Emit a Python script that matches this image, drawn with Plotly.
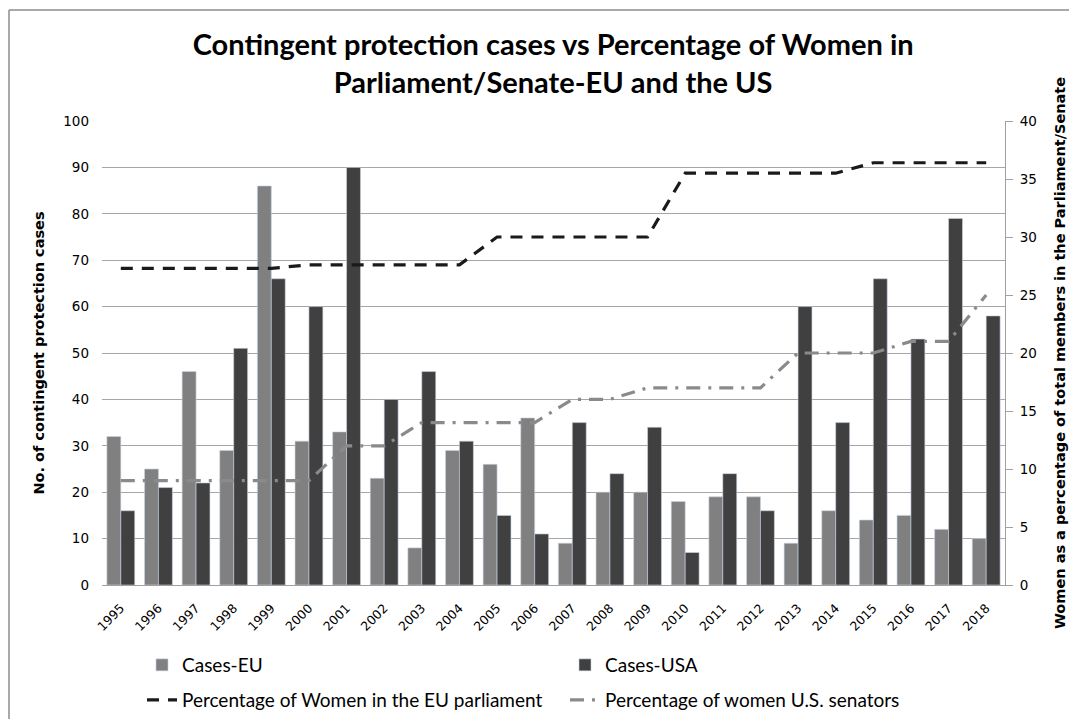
import plotly.graph_objects as go

years = [str(y) for y in range(1995, 2019)]
cases_eu = [32, 25, 46, 29, 86, 31, 33, 23, 8, 29, 26, 36, 9, 20, 20, 18, 19, 19, 9, 16, 14, 15, 12, 10]
cases_usa = [16, 21, 22, 51, 66, 60, 90, 40, 46, 31, 15, 11, 35, 24, 34, 7, 24, 16, 60, 35, 66, 53, 79, 58]
pct_eu_parl = [27.3, 27.3, 27.3, 27.3, 27.3, 27.6, 27.6, 27.6, 27.6, 27.6, 30, 30, 30, 30, 30,
               35.5, 35.5, 35.5, 35.5, 35.5, 36.4, 36.4, 36.4, 36.4]
pct_us_sen = [9, 9, 9, 9, 9, 9, 12, 12, 14, 14, 14, 14, 16, 16, 17, 17, 17, 17, 20, 20, 20, 21, 21, 25]

# the page body has an 8px margin, so the figure is drawn 8px smaller/shifted
OFF = 8
W, H = 1077 - OFF, 719 - OFF
L, R, T, B = 102 - OFF, 72, 121 - OFF, 134
pw, ph = W - L - R, H - T - B
LEG_FONT = dict(family="Lato", size=19, color="black")

fig = go.Figure()
fig.add_trace(go.Bar(x=years, y=cases_eu, name="Cases-EU", marker_color="#808080",
                     marker_line=dict(color="#c8d4e4", width=0.6), legend="legend"))
fig.add_trace(go.Bar(x=years, y=cases_usa, name="Cases-USA", marker_color="#404040",
                     marker_line=dict(color="#c8d4e4", width=0.6), legend="legend"))
fig.add_trace(go.Scatter(x=years, y=pct_eu_parl, name="Percentage of Women in the EU parliament",
                         mode="lines", yaxis="y2", legend="legend2",
                         line=dict(color="#1a1a1a", width=3.2, dash="12px,9px")))
fig.add_trace(go.Scatter(x=years, y=pct_us_sen, name="Percentage of women U.S. senators",
                         mode="lines", yaxis="y2", legend="legend2",
                         line=dict(color="#8a8a8a", width=3.2, dash="14px,8px,3px,8px")))

# outer chart border (left and top edges)
bx, by = (1 - L) / pw, (H - B - 2) / ph
fig.add_shape(type="line", xref="paper", yref="paper",
              x0=bx, x1=(W + 5 - L) / pw, y0=by, y1=by,
              line=dict(color="#8c8c8c", width=1.5))
fig.add_shape(type="line", xref="paper", yref="paper",
              x0=bx, x1=bx, y0=by, y1=-(B + 5) / ph,
              line=dict(color="#8c8c8c", width=1.5))

leg_common = dict(orientation="h", x=(142 - OFF - L) / pw, xanchor="left", yanchor="middle",
                  entrywidth=378, entrywidthmode="pixels", font=LEG_FONT,
                  bgcolor="rgba(0,0,0,0)")

fig.update_layout(
    width=W, height=H,
    margin=dict(l=L, r=R, t=T, b=B, autoexpand=False),
    paper_bgcolor="white", plot_bgcolor="white",
    barmode="group", bargap=0.26, bargroupgap=0,
    title=dict(text="<b>Contingent protection cases vs Percentage of Women in<br>Parliament/Senate-EU and the US</b>",
               x=0.51, xanchor="center", y=1 - 47 / H, yanchor="top",
               font=dict(family="Lato", size=29, color="black")),
    font=dict(family="DejaVu Sans", size=12, color="black"),
    xaxis=dict(type="category", tickangle=-45, showgrid=False, showline=True, automargin=False,
               linecolor="#a0a0a0", linewidth=1, ticks="", ticklabelstandoff=10,
               tickfont=dict(family="DejaVu Sans", size=12.5)),
    yaxis=dict(range=[0, 100], dtick=10, showgrid=True, gridcolor="#a6a6a6", gridwidth=1,
               zeroline=False, showline=False, ticks="", automargin=False, ticklabelstandoff=12,
               tickfont=dict(family="DejaVu Sans", size=13.5),
               title=dict(text="<b>No. of contingent protection cases</b>",
                          font=dict(family="DejaVu Sans", size=14.5), standoff=15)),
    yaxis2=dict(range=[0, 40], dtick=5, overlaying="y", side="right", showgrid=False,
                zeroline=False, showline=True, linecolor="#a0a0a0", linewidth=1, automargin=False,
                ticks="outside", ticklen=7, tickcolor="#a0a0a0", ticklabelstandoff=4,
                tickfont=dict(family="DejaVu Sans", size=13.5),
                title=dict(text="<b>Women as a percentage of total members in the Parliament/Senate</b>",
                           font=dict(family="DejaVu Sans", size=14.5), standoff=18)),
    legend=dict(y=(H - B - (665 - OFF)) / ph, **leg_common),
    legend2=dict(y=(H - B - (700 - OFF)) / ph, **leg_common),
)

fig.write_html("out.html")
